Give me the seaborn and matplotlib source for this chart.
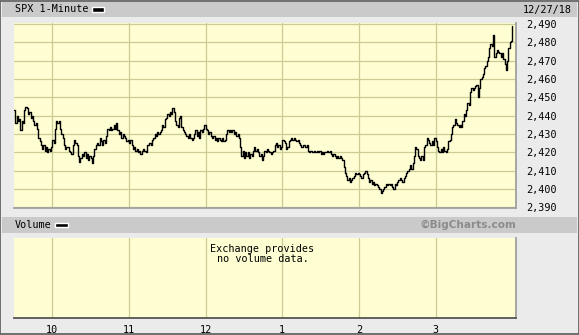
import matplotlib
matplotlib.use("Agg")
import matplotlib.pyplot as plt
from matplotlib.patches import Rectangle
import seaborn as sns
import pandas as pd

# ---- data ----
minute = list(range(0, 391))
price = [
    2443, 2436, 2440, 2437, 2438, 2432, 2437, 2436, 2443, 2445,
    2444, 2441, 2442, 2439, 2440, 2437, 2435, 2436, 2433, 2428,
    2426, 2424, 2422, 2424, 2421, 2423, 2420, 2422, 2421, 2423,
    2427, 2425, 2433, 2437, 2436, 2437, 2433, 2430, 2428, 2424,
    2422, 2423, 2423, 2421, 2420, 2419, 2424, 2427, 2425, 2424,
    2418, 2415, 2417, 2419, 2418, 2420, 2417, 2419, 2416, 2418,
    2417, 2414, 2418, 2422, 2424, 2425, 2424, 2428, 2426, 2424,
    2427, 2425, 2429, 2433, 2432, 2434, 2432, 2433, 2435, 2433,
    2436, 2432, 2430, 2431, 2428, 2430, 2429, 2428, 2426, 2427,
    2425, 2427, 2424, 2422, 2423, 2421, 2422, 2420, 2421, 2419,
    2421, 2422, 2421, 2420, 2424, 2424, 2425, 2424, 2427, 2428,
    2430, 2429, 2431, 2430, 2431, 2432, 2435, 2434, 2438, 2439,
    2441, 2440, 2442, 2441, 2444, 2442, 2437, 2435, 2434, 2439,
    2440, 2434, 2432, 2431, 2430, 2429, 2428, 2430, 2428, 2427,
    2428, 2430, 2432, 2429, 2431, 2428, 2432, 2431, 2433, 2435,
    2433, 2432, 2430, 2431, 2429, 2428, 2429, 2427, 2428, 2426,
    2428, 2427, 2426, 2428, 2426, 2427, 2430, 2432, 2431, 2432,
    2431, 2432, 2430, 2431, 2429, 2430, 2428, 2423, 2418, 2421,
    2417, 2420, 2418, 2420, 2417, 2419, 2418, 2421, 2423, 2421,
    2422, 2420, 2418, 2419, 2416, 2418, 2421, 2420, 2422, 2421,
    2420, 2419, 2420, 2421, 2424, 2425, 2423, 2424, 2422, 2423,
    2427, 2426, 2425, 2422, 2423, 2426, 2427, 2428, 2427, 2428,
    2427, 2426, 2427, 2425, 2424, 2423, 2424, 2424, 2423, 2424,
    2421, 2420, 2421, 2420, 2420, 2421, 2420, 2421, 2420, 2421,
    2419, 2420, 2419, 2420, 2420, 2421, 2420, 2421, 2419, 2418,
    2419, 2418, 2417, 2418, 2417, 2418, 2417, 2416, 2412, 2409,
    2407, 2405, 2406, 2404, 2405, 2406, 2407, 2409, 2408, 2409,
    2408, 2407, 2406, 2408, 2409, 2410, 2408, 2406, 2404, 2405,
    2403, 2404, 2402, 2403, 2402, 2401, 2400, 2398, 2399, 2400,
    2401, 2403, 2402, 2403, 2402, 2403, 2401, 2400, 2403, 2402,
    2404, 2405, 2406, 2405, 2404, 2406, 2407, 2409, 2410, 2411,
    2413, 2411, 2414, 2418, 2423, 2422, 2418, 2417, 2416, 2418,
    2416, 2423, 2424, 2428, 2427, 2425, 2424, 2426, 2424, 2428,
    2426, 2423, 2421, 2420, 2422, 2420, 2423, 2421, 2420, 2422,
    2426, 2427, 2430, 2434, 2435, 2438, 2436, 2435, 2434, 2435,
    2434, 2437, 2441, 2440, 2443, 2447, 2446, 2453, 2455, 2454,
    2455, 2456, 2457, 2450, 2455, 2460, 2461, 2463, 2466, 2467,
    2470, 2472, 2477, 2479, 2478, 2484, 2472, 2474, 2476, 2475,
    2474, 2472, 2474, 2471, 2468, 2465, 2470, 2477, 2480, 2481,
    2489,
]
hour_minutes = [30, 90, 150, 210, 270, 330]
hour_labels = ["10", "11", "12", "1", "2", "3"]
price_ticks = [2390, 2400, 2410, 2420, 2430, 2440, 2450, 2460, 2470, 2480, 2490]
title_text = "SPX 1-Minute"
date_text = "12/27/18"

df = pd.DataFrame({"minute": minute, "price": price})

# ---- style ----
sns.set_style("white")
plt.rcParams["font.family"] = ["DejaVu Sans Mono", "DejaVu Sans"]

W, H = 579, 335
BG = "#ebebeb"
BAR = "#cacaca"
PANEL = "#fefed2"
GRID = "#cbcb96"

fig = plt.figure(figsize=(W / 100, H / 100), dpi=100, facecolor=BG)


def fx(px):
    return px / W


def fy(py):
    return 1 - py / H


# header bars
fig.patches.append(Rectangle((fx(2), fy(16.5)), fx(575), 14.5 / H, transform=fig.transFigure,
                             facecolor=BAR, edgecolor="none", zorder=0))
fig.patches.append(Rectangle((fx(2), fy(232.5)), fx(575), 15.3 / H, transform=fig.transFigure,
                             facecolor=BAR, edgecolor="none", zorder=0))
# outer border
fig.patches.append(Rectangle((0.0008, 0.0015), 0.9984, 0.997, transform=fig.transFigure,
                             facecolor="none", edgecolor="#5a5a5a", lw=1.2, zorder=5))

# header texts
fig.text(fx(15), fy(9.5), title_text, fontsize=7.3, color="black", va="center", ha="left")
fig.patches.append(Rectangle((fx(91.5), fy(11.5)), fx(12), 4.5 / H, transform=fig.transFigure,
                             facecolor="black", edgecolor="white", lw=1.0, zorder=3))
fig.text(fx(572), fy(9.5), date_text, fontsize=7.3, color="black", va="center", ha="right")

fig.text(fx(15), fy(225), "Volume", fontsize=7.3, color="black", va="center", ha="left")
fig.patches.append(Rectangle((fx(55.5), fy(227)), fx(12), 4.5 / H, transform=fig.transFigure,
                             facecolor="black", edgecolor="white", lw=1.0, zorder=3))
fig.text(fx(516), fy(225), "\u00a9BigCharts.com", fontsize=7.6, color="#8c8c8c",
         fontweight="bold", family="DejaVu Sans", va="center", ha="right")

# ---- main price panel ----
ax = fig.add_axes([fx(14), fy(208), fx(502), 185 / H])
ax.set_facecolor(PANEL)
sns.lineplot(data=df, x="minute", y="price", ax=ax, color="black", lw=1.0,
             drawstyle="steps-post", estimator=None, sort=False)
ax.set_xlim(0, 393)
ax.set_ylim(2389.7, 2490.6)
ax.set_xticks(hour_minutes)
ax.set_xticklabels([])
ax.set_yticks(price_ticks)
ax.set_yticklabels([f"{v:,}" for v in price_ticks])
ax.yaxis.tick_right()
ax.tick_params(axis="both", length=0)
ax.tick_params(axis="y", pad=7, labelsize=7.3, labelcolor="black")
ax.grid(True, color=GRID, lw=0.9)
ax.set_axisbelow(True)
ax.set_xlabel("")
ax.set_ylabel("")
for s in ["left", "top"]:
    ax.spines[s].set_visible(False)
for s in ["right", "bottom"]:
    ax.spines[s].set_color("#a0a0a0")
    ax.spines[s].set_linewidth(1.3)

# ---- volume panel ----
av = fig.add_axes([fx(14), fy(318), fx(502), 80 / H])
av.set_facecolor(PANEL)
av.set_xlim(0, 393)
av.set_ylim(0, 1)
av.set_xticks(hour_minutes)
av.set_xticklabels(hour_labels)
av.set_yticks([])
av.tick_params(axis="x", length=0, pad=5, labelsize=7.3, labelcolor="black")
av.grid(True, axis="x", color=GRID, lw=0.9)
av.set_axisbelow(True)
av.spines["left"].set_visible(False)
av.spines["top"].set_visible(False)
av.spines["right"].set_color("#a0a0a0")
av.spines["right"].set_linewidth(1.3)
av.spines["bottom"].set_color("#555555")
av.spines["bottom"].set_linewidth(1.3)
av.text(0.495, 0.80, "Exchange provides\nno volume data.", transform=av.transAxes,
        ha="center", va="center", fontsize=7.3, color="black", linespacing=1.05)

fig.savefig("out.png", dpi=100, facecolor=BG)
